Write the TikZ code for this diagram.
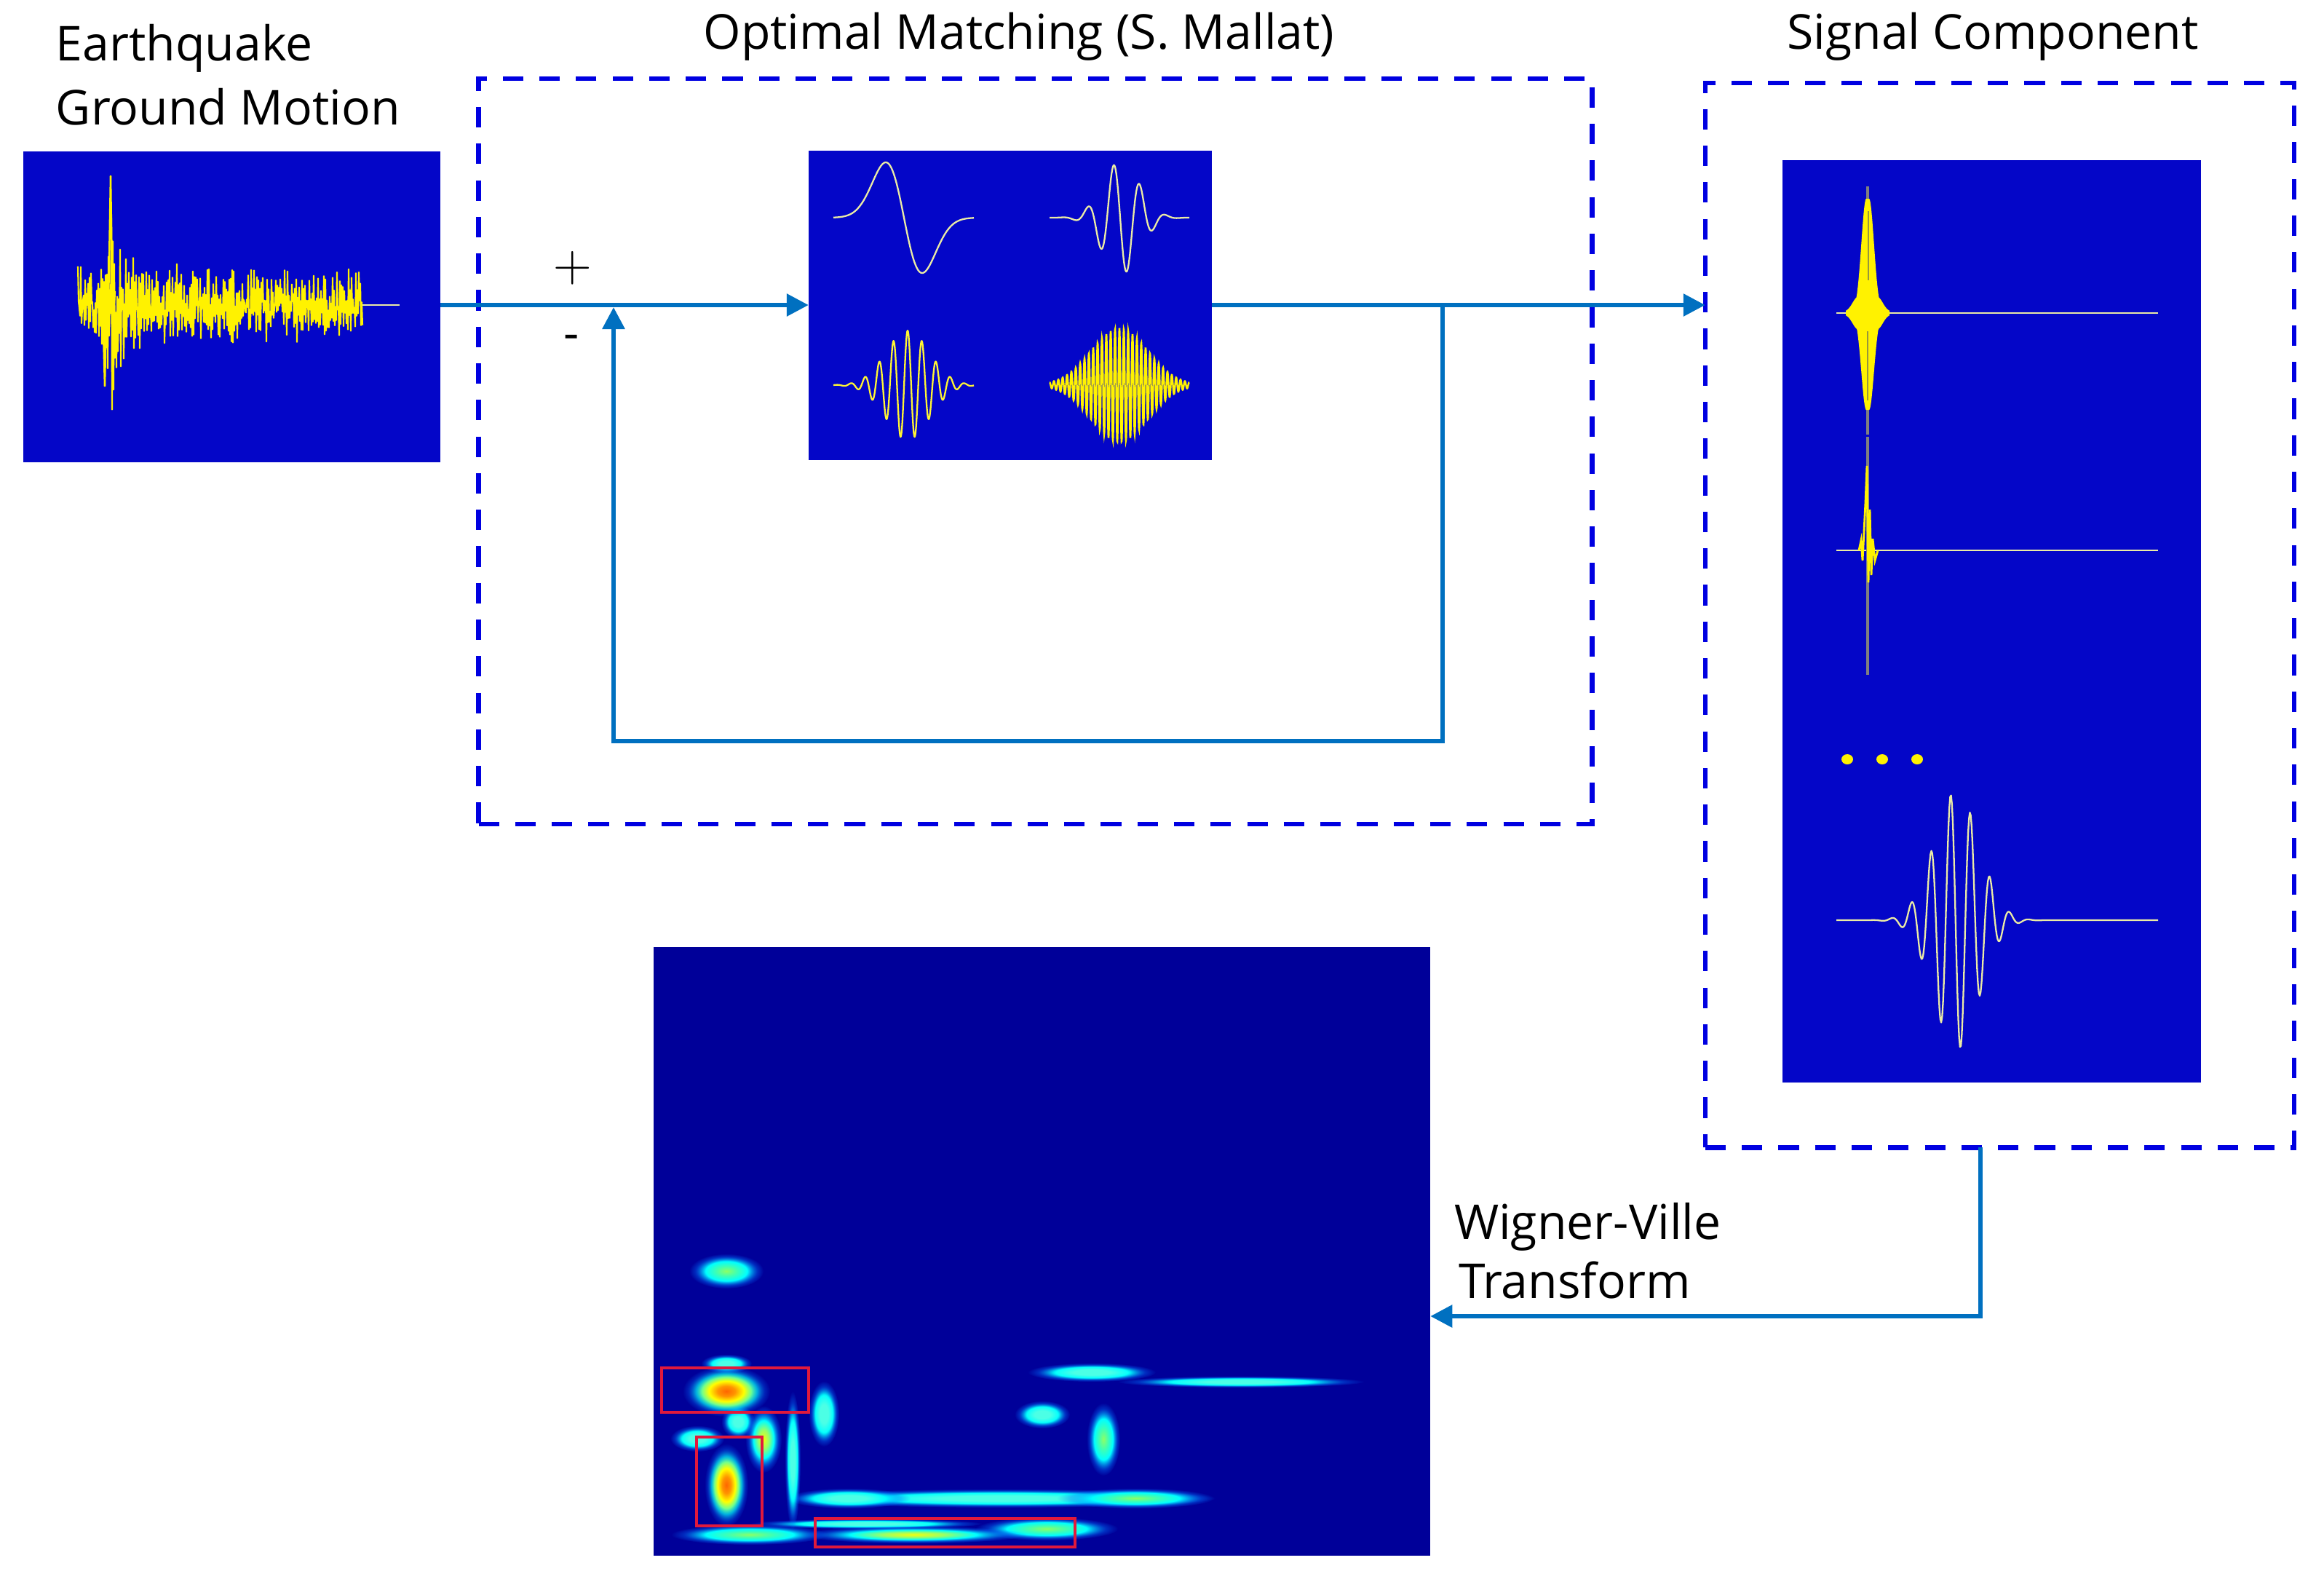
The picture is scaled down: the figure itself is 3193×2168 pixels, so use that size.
\documentclass[tikz,border=0pt]{standalone}
\usepackage{fontspec}
\setmainfont{Open Sans}
\usetikzlibrary{arrows.meta,fadings}
\definecolor{sigblue}{RGB}{4,6,200}
\definecolor{jbg}{RGB}{0,0,153}
\definecolor{dashblue}{RGB}{0,0,225}
\definecolor{connblue}{RGB}{0,112,192}
\definecolor{paleyel}{RGB}{235,235,165}
\definecolor{olive}{RGB}{150,150,60}
\definecolor{redbox}{RGB}{225,25,60}
\definecolor{jc0}{rgb}{0.3,1,0.9}
\definecolor{jc1}{rgb}{0,1,1}
\definecolor{jc2}{rgb}{0,0.45,1}
\definecolor{jg0}{rgb}{0.55,1,0.4}
\definecolor{jg1}{rgb}{0.25,1,0.7}
\definecolor{jy0}{rgb}{0.95,1,0.05}
\definecolor{jy1}{rgb}{0.6,1,0.4}
\definecolor{jh0}{rgb}{1,0.4,0}
\definecolor{jh1}{rgb}{1,0.58,0}
\definecolor{jh2}{rgb}{1,1,0}
\definecolor{jh3}{rgb}{0.45,1,0.55}
\pgfdeclareradialshading{jcyan}{\pgfpoint{0bp}{0bp}}{color(0bp)=(jc0); color(7bp)=(jc0); color(15bp)=(jc1); color(21bp)=(jc2); color(25bp)=(jc2); color(50bp)=(jc2)}
\pgfdeclareradialshading{jgreen}{\pgfpoint{0bp}{0bp}}{color(0bp)=(jg0); color(7bp)=(jg1); color(14bp)=(jc1); color(21bp)=(jc2); color(25bp)=(jc2); color(50bp)=(jc2)}
\pgfdeclareradialshading{jyel}{\pgfpoint{0bp}{0bp}}{color(0bp)=(jy0); color(7bp)=(jy1); color(14bp)=(jc1); color(21bp)=(jc2); color(25bp)=(jc2); color(50bp)=(jc2)}
\pgfdeclareradialshading{jhot}{\pgfpoint{0bp}{0bp}}{color(0bp)=(jh0); color(5bp)=(jh1); color(10bp)=(jh2); color(14bp)=(jh3); color(17.5bp)=(jc1); color(22bp)=(jc2); color(25bp)=(jc2); color(50bp)=(jc2)}
\pgfdeclareradialshading{blobfadeshade}{\pgfpoint{0bp}{0bp}}{color(0bp)=(pgftransparent!0); color(14bp)=(pgftransparent!0); color(25bp)=(pgftransparent!100); color(50bp)=(pgftransparent!100)}
\pgfdeclarefading{blobfade}{\pgfuseshading{blobfadeshade}}
\begin{document}
\begin{tikzpicture}[x=0.01cm, y=-0.01cm,
  declare function={gs(\u)=exp(max(-15,-0.5*(\u)*(\u)));
                    bump(\u)=1/(1+((\u)*(\u))^3);
                    burst(\u)=exp(max(-15,-((max(0,abs(\u)-2))/9.5)^2));},
  every node/.style={inner sep=0pt, outer sep=0pt},
  lbl/.style={font=\fontsize{18.8}{22}\selectfont, text=black},
  panel/.style={fill=sigblue, draw=none},
  dbox/.style={draw=dashblue, line width=1.75pt, dash pattern=on 8pt off 6.3pt},
  conn/.style={draw=connblue, line width=1.7pt},
  tip/.style={-{Triangle[length=0.3cm, width=0.3cm]}},
  wave/.style={paleyel, line width=0.65pt, line join=round},
  blob/.style={draw=none, path fading=blobfade}]
\useasboundingbox (0,0) rectangle (3193,2168);
\pgfmathsetseed{17}
% ---------- boxes ----------
\node[panel, minimum width=5.73cm, minimum height=4.27cm] (eq) at (318.5,421.5) {};
\node[panel, minimum width=5.54cm, minimum height=4.25cm] (dict) at (1388,419.5) {};
\node[dbox, minimum width=15.29cm, minimum height=10.24cm] (om) at (1422.5,620) {};
\node[dbox, minimum width=8.09cm, minimum height=14.62cm] (sc) at (2747.5,845) {};
\node[panel, minimum width=5.75cm, minimum height=12.67cm] (comp) at (2736.5,853.5) {};
\node[fill=jbg, minimum width=10.67cm, minimum height=8.36cm] (wv) at (1431.5,1719) {};
% ---------- labels ----------
\node[lbl, anchor=base west] (t1) at (77,83) {Earthquake};
\node[lbl, anchor=base west] (t2) at (77,171) {Ground Motion};
\node[lbl, anchor=base] (t3) at (1400,67) {Optimal Matching (S. Mallat)};
\node[lbl, anchor=base] (t4) at (2738,67) {Signal Component};
\node[lbl, anchor=base west] (t5) at (1998,1702) {Wigner-Ville};
\node[lbl, anchor=base west] (t6) at (2004,1783) {Transform};
\node[font=\fontsize{21}{24}\selectfont] (plus) at (787,368) {$+$};
\node[lbl] (minus) at (785,470) {-};
% ---------- connectors ----------
\coordinate (J) at (843,422);
\coordinate (K) at (1982,419);
\coordinate (B1) at (1982,1018);
\coordinate (B2) at (843,1018);
\coordinate (W1) at (2721,1576);
\coordinate (W2) at (2721,1808);
\draw[conn, tip] (eq.east |- K) -- (dict.west |- K);
\draw[conn, tip] (dict.east |- K) -- (sc.west |- K);
\draw[conn, tip] (K) -- (B1) -- (B2) -- (J);
\draw[conn, tip] (W1) -- (W2) -- (wv.east |- W2);
% ---------- seismogram ----------
\draw[yellow, line width=0.6pt, line join=round] plot[domain=107:498, samples=392, variable=\t]
  (\t, {419 + (62 + 95*gs((\t-153)/4) + 30*gs((\t-166)/18) - 12*(\t-107)/391)*(0.6*(1-2*mod(round(\t),2))*(0.35+0.65*rnd) + 0.4*rand)});
\draw[yellow, line width=0.7pt] (149,419) -- (152,241) -- (155,450) -- (158,400);
\draw[yellow, line width=0.7pt] (141,419) -- (144,531) -- (147,380);
\draw[paleyel, line width=0.6pt] (498,419) -- (549,419);
% ---------- dictionary atoms ----------
\draw[wave] plot[domain=1145:1338, samples=150, variable=\t] (\t, {299 + 125.3*((\t-1242)/25)*gs((\t-1242)/25)});
\draw[wave] plot[domain=1442:1634, samples=220, variable=\t] (\t, {299 - 78*gs((\t-1540)/25)*cos(10*(\t-1530))});
\draw[wave, yellow!80!white] plot[domain=1145:1338, samples=300, variable=\t] (\t, {529 - 75*gs((\t-1247)/30)*cos(18.4615*(\t-1247))});
\draw[yellow, line width=0.7pt] plot[domain=1442:1634, samples=700, variable=\t] (\t, {529 - 78*gs((\t-1538)/39)*cos(60*(\t-1538))});
% ---------- signal components ----------
\draw[paleyel, line width=0.6pt] (2523,430) -- (2965,430);
\draw[gray, line width=1.3pt] (2566,256) -- (2566,597);
\fill[yellow] plot[domain=2536:2596, samples=121, variable=\t] (\t, {430 - max(157*burst(\t-2566), 24*bump((\t-2566)/22))})
  -- plot[domain=2596:2536, samples=121, variable=\t] (\t, {430 + max(133*burst(\t-2566), 24*bump((\t-2566)/22))}) -- cycle;
\draw[olive, line width=0.5pt] (2567,290) -- (2567,385) (2566,455) -- (2566,550);
\draw[paleyel, line width=0.6pt] (2523,756) -- (2965,756);
\draw[gray, line width=1.1pt] (2566,600) -- (2566,927);
\draw[yellow, line width=0.8pt] (2554,756) -- (2557,742) -- (2559,770) -- (2561,730) -- (2563,690) -- (2565,640)
  -- (2567,800) -- (2569,700) -- (2571,790) -- (2573,740) -- (2576,770) -- (2580,756);
\fill[yellow] (2538,1043) ellipse [x radius=8, y radius=7];
\fill[yellow] (2586,1043) ellipse [x radius=8, y radius=7];
\fill[yellow] (2634,1043) ellipse [x radius=8, y radius=7];
\draw[wave] plot[domain=2523:2965, samples=360, variable=\t] (\t, {1264 - 178*gs((\t-2688)/31)*cos(13.3333*(\t-2680))});
% ---------- Wigner-Ville plane ----------
\begin{scope}
\clip (wv.north west) rectangle (wv.south east);
\shade[blob, shading=jcyan] (1190,2093) ellipse [x radius=160, y radius=7];
\shade[blob, shading=jcyan] (1705,1898) ellipse [x radius=170, y radius=8];
\shade[blob, shading=jcyan] (1500,1885) ellipse [x radius=88, y radius=13];
\shade[blob, shading=jcyan] (1376,2058) ellipse [x radius=295, y radius=13];
\shade[blob, shading=jcyan] (1166,2058) ellipse [x radius=85, y radius=14];
\shade[blob, shading=jgreen] (1560,2058) ellipse [x radius=108, y radius=14];
\shade[blob, shading=jgreen] (1030,2108) ellipse [x radius=108, y radius=14];
\shade[blob, shading=jgreen] (1438,2100) ellipse [x radius=98, y radius=16];
\shade[blob, shading=jyel] (1255,2108) ellipse [x radius=155, y radius=12];
\shade[blob, shading=jcyan] (1089,2006) ellipse [x radius=11, y radius=95];
\shade[blob, shading=jcyan] (1132,1942) ellipse [x radius=21, y radius=45];
\shade[blob, shading=jcyan] (1432,1943) ellipse [x radius=38, y radius=19];
\shade[blob, shading=jgreen] (1516,1977) ellipse [x radius=23, y radius=50];
\shade[blob, shading=jcyan] (1014,1953) ellipse [x radius=23, y radius=23];
\shade[blob, shading=jcyan] (958,1976) ellipse [x radius=37, y radius=18];
\shade[blob, shading=jcyan] (998,1873) ellipse [x radius=35, y radius=13];
\shade[blob, shading=jgreen] (998,1746) ellipse [x radius=51, y radius=24];
\shade[blob, shading=jyel] (1049,1977) ellipse [x radius=25, y radius=46];
\shade[blob, shading=jhot] (998,2040) ellipse [x radius=30, y radius=57];
\shade[blob, shading=jhot] (998,1911) ellipse [x radius=60, y radius=35];
\end{scope}
\draw[redbox, line width=0.9pt] (909,1879) rectangle (1111,1940);
\draw[redbox, line width=0.9pt] (957,1974) rectangle (1047,2096);
\draw[redbox, line width=0.9pt] (1120,2086) rectangle (1477,2125);
\end{tikzpicture}
\end{document}
